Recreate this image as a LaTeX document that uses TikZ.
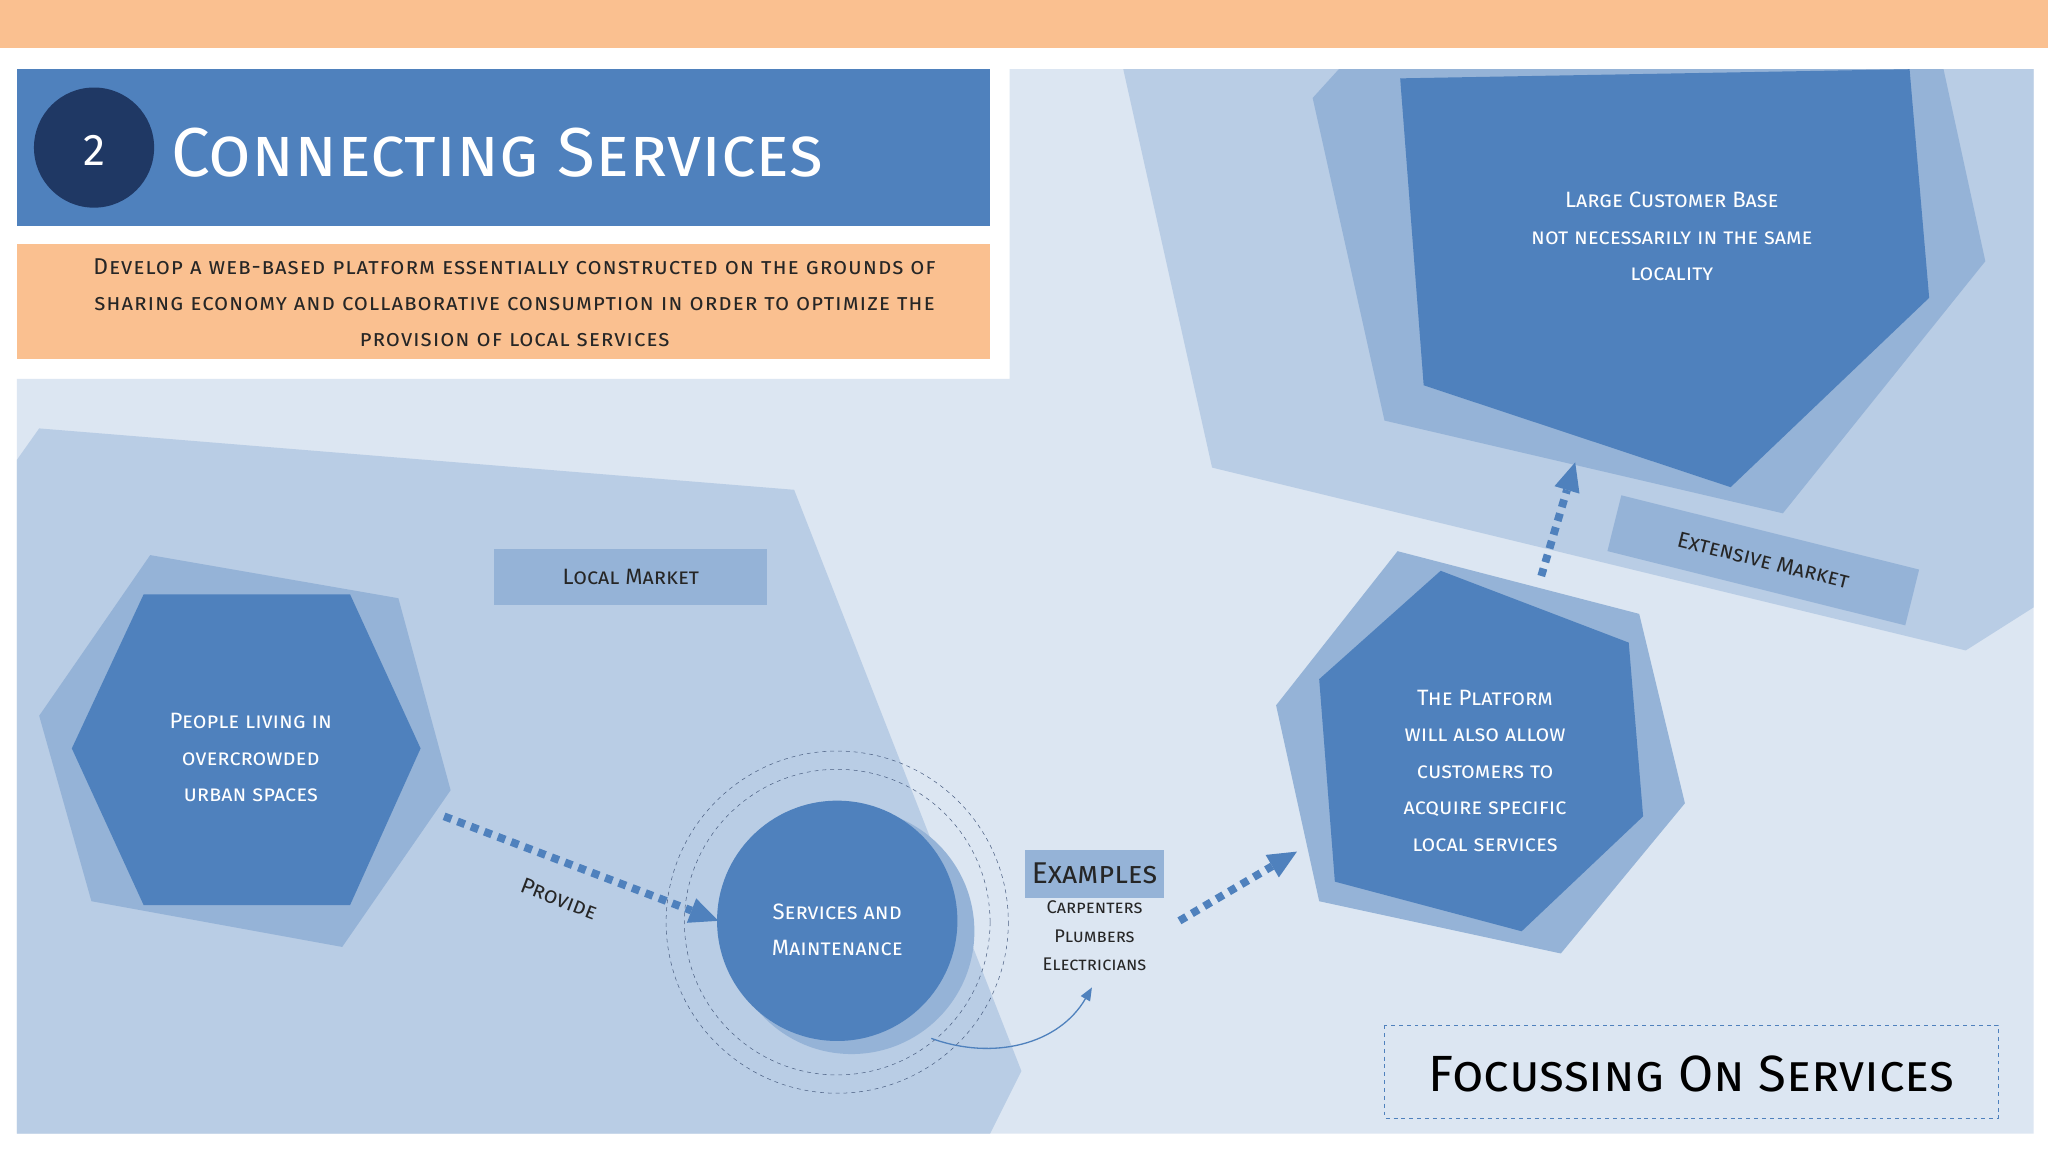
\documentclass[tikz,border=0pt]{standalone}
\usepackage{fontspec}
\setmainfont{Fira Sans}
\usetikzlibrary{arrows.meta}
\definecolor{orng}{HTML}{FAC090}
\definecolor{bl}{HTML}{4F81BD}
\definecolor{mb}{HTML}{95B3D7}
\definecolor{lb}{HTML}{B9CDE5}
\definecolor{vl}{HTML}{DCE6F2}
\definecolor{dk}{HTML}{1F3864}
\tikzset{
 wt/.style={text=white,font=\fontsize{17}{28}\selectfont\scshape,align=center},
 dt/.style={text=black!85,font=\fontsize{17}{28}\selectfont\scshape,align=center},
 darr/.style={draw=bl,line width=6pt,dash pattern=on 6pt off 5pt,-{Triangle[length=22pt,width=20pt,line width=0pt]}},
}
\begin{document}
\begin{tikzpicture}[x=1pt,y=-1pt]
\useasboundingbox (0,0) rectangle (1568,882);
\fill[white] (0,0) rectangle (1568,882);
\fill[orng] (0,0) rectangle (1568,37);
\fill[vl] (13,290)--(773,290)--(773,53)--(1557,53)--(1557,868)--(13,868)--cycle;
\fill[lb] (13,352)--(30,328)--(608,375)--(782,820)--(758,868)--(13,868)--cycle;
\fill[lb] (860,53)--(1557,53)--(1557,465)--(1505,498)--(928,358)--cycle;
% top right hexagon
\fill[mb] (1005,75)--(1025,53)--(1488,53)--(1520,200)--(1365,393)--(1060,322)--cycle;
\fill[bl] (1072,60)--(1462,53)--(1477,228)--(1325,373)--(1090,295)--cycle;
\node[wt] (large) at (1280,181) {Large Customer Base\\not necessarily in the same\\locality};
% left hexagon
\fill[mb] (30,548)--(115,425)--(305,458)--(345,605)--(262,725)--(70,690)--cycle;
\fill[bl] (55,573)--(110,455)--(268,455)--(322,573)--(268,693)--(110,693)--cycle;
\node[wt] (people) at (192,580) {People living in\\overcrowded\\urban spaces};
% right hexagon
\fill[mb] (977,540)--(1070,422)--(1255,470)--(1290,615)--(1195,730)--(1010,690)--cycle;
\fill[bl] (1010,520)--(1103,437)--(1247,492)--(1258,625)--(1165,713)--(1022,675)--cycle;
\node[wt] (platform) at (1137,590) {The Platform\\will also allow\\customers to\\acquire specific\\local services};
% circle
\fill[mb] (652,713) circle (94);
\fill[bl] (641,705) circle (92);
\draw[dk!80,dashed] (641,706) circle (131);
\draw[dk!80,dashed] (641,706) circle (117);
\node[wt] (serv) at (641,712) {Services and\\Maintenance};
% header
\fill[bl] (13,53) rectangle (758,173);
\fill[dk] (72,113) circle (46);
\node[text=white,font=\fontsize{34}{40}\selectfont] (num) at (72,115) {2};
\node[text=white,font=\fontsize{53}{60}\selectfont\scshape,anchor=west] (title) at (128,117) {Connecting Services};
\fill[orng] (13,187) rectangle (758,275);
\node[text=black!85,font=\fontsize{17.5}{27.5}\selectfont\scshape\addfontfeatures{LetterSpace=4},align=center] (desc) at (394,232) {Develop a web-based platform essentially constructed on the grounds of\\sharing economy and collaborative consumption in order to optimize the\\provision of local services};
% labels
\node[fill=mb,minimum width=209,minimum height=43,dt] (local) at (483,442) {Local Market};
\node[fill=mb,minimum width=235,minimum height=44,dt,rotate=-14] (ext) at (1350,429) {Extensive Market};
\node[fill=mb,minimum width=107,minimum height=37,text=black!85,font=\fontsize{23}{26}\selectfont\scshape] (ex) at (838,669) {Examples};
\node[text=black!85,font=\fontsize{14}{22}\selectfont\scshape,align=center,anchor=north] (exl) at (838,686) {Carpenters\\Plumbers\\Electricians};
% arrows
\coordinate (a1) at (340,625); \coordinate (a2) at (550,705);
\draw[darr] (a1) -- (a2);
\node[dt,rotate=-21] (prov) at (428,688) {Provide};
\coordinate (b1) at (903,705); \coordinate (b2) at (993,652);
\draw[darr] (b1) -- (b2);
\coordinate (c1) at (1180,441); \coordinate (c2) at (1206,354);
\draw[darr] (c1) -- (c2);
\coordinate (d1) at (713,795); \coordinate (d2) at (836,756);
\draw[bl,line width=1pt,-{Triangle[length=10pt,width=8pt]}] (d1) to[out=-20,in=-120] (d2);
% focussing
\draw[bl,dashed] (1060,785) rectangle (1530,856);
\node[text=black,font=\fontsize{39}{44}\selectfont\scshape] (focus) at (1295,822) {Focussing On Services};
\end{tikzpicture}
\end{document}
